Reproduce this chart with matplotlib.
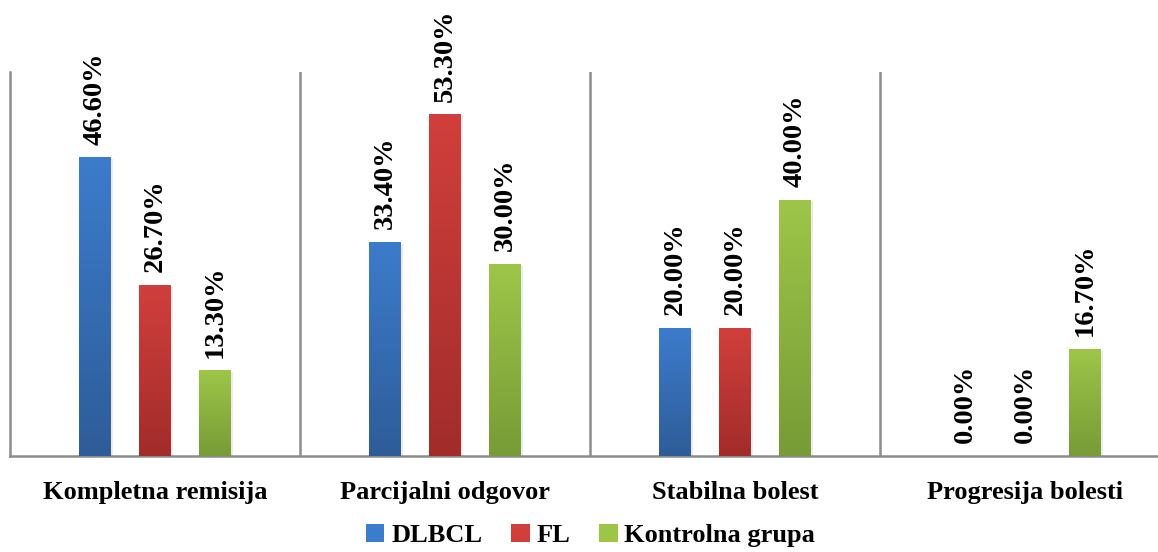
import numpy as np
import matplotlib.pyplot as plt
from matplotlib.colors import LinearSegmentedColormap
from matplotlib.patches import Patch

# podaci
kategorije = ["Kompletna remisija", "Parcijalni odgovor", "Stabilna bolest", "Progresija bolesti"]
serije = ["DLBCL", "FL", "Kontrolna grupa"]
dlbcl = [46.6, 33.4, 20.0, 0.0]
fl = [26.7, 53.3, 20.0, 0.0]
kontrolna = [13.3, 30.0, 40.0, 16.7]

# boje: (vrh, dno) gradijenta
boje = [("#3C7CCC", "#2E5C98"), ("#D13F3C", "#A12C2A"), ("#9DC649", "#779B36")]

plt.rcParams["font.family"] = ["Liberation Serif", "DejaVu Serif"]
plt.rcParams["font.weight"] = "bold"

fig = plt.figure(figsize=(11.58, 5.52), dpi=100)
# os prelazi desnu ivicu slike kao u originalu
ax = fig.add_axes([10 / 1158, (552 - 456) / 552, 1160 / 1158, (456 - 72) / 552])

x = np.arange(len(kategorije))
sirina = 0.11
razmak = 0.207
grad = np.linspace(0, 1, 256).reshape(-1, 1)

for i, (vrijednosti, (vrh, dno)) in enumerate(zip([dlbcl, fl, kontrolna], boje)):
    cmap = LinearSegmentedColormap.from_list(serije[i], [dno, vrh])
    pozicije = x + (i - 1) * razmak
    for xp, v in zip(pozicije, vrijednosti):
        if v > 0:
            # sjena
            ax.bar(xp + 0.006, v, sirina, bottom=-0.25, color="#000000", alpha=0.08, zorder=2)
            ax.imshow(grad, cmap=cmap, origin="lower", aspect="auto",
                      extent=[xp - sirina / 2, xp + sirina / 2, 0, v], zorder=3)
        ax.text(xp, v + 2.0, f"{v:.2f}%", rotation=90, ha="center", va="bottom",
                fontsize=20.5, fontweight="bold", zorder=4)

ax.set_xlim(-0.5, 3.5)
ax.set_ylim(0, 60)

for granica in [0.5, 1.5, 2.5]:
    ax.axvline(granica, color="#8C8C8C", lw=1.8, zorder=1)

for s in ["top", "right"]:
    ax.spines[s].set_visible(False)
ax.spines["left"].set_color("#8C8C8C")
ax.spines["left"].set_linewidth(1.8)
ax.spines["bottom"].set_color("#8C8C8C")
ax.spines["bottom"].set_linewidth(1.8)

ax.set_yticks([])
ax.set_xticks(x)
ax.set_xticklabels(kategorije, fontsize=19, fontweight="bold")
ax.tick_params(axis="x", length=0, pad=18)

rucke = [Patch(facecolor=b[0], edgecolor="none") for b in boje]
fig.legend(rucke, serije, loc="center", bbox_to_anchor=(0.51, 0.03), ncol=3, frameon=False,
           prop={"size": 19, "weight": "bold"}, handlelength=0.7, handleheight=0.7,
           handletextpad=0.25, columnspacing=1.1, borderpad=0.1)

fig.savefig("out.png", dpi=100)
